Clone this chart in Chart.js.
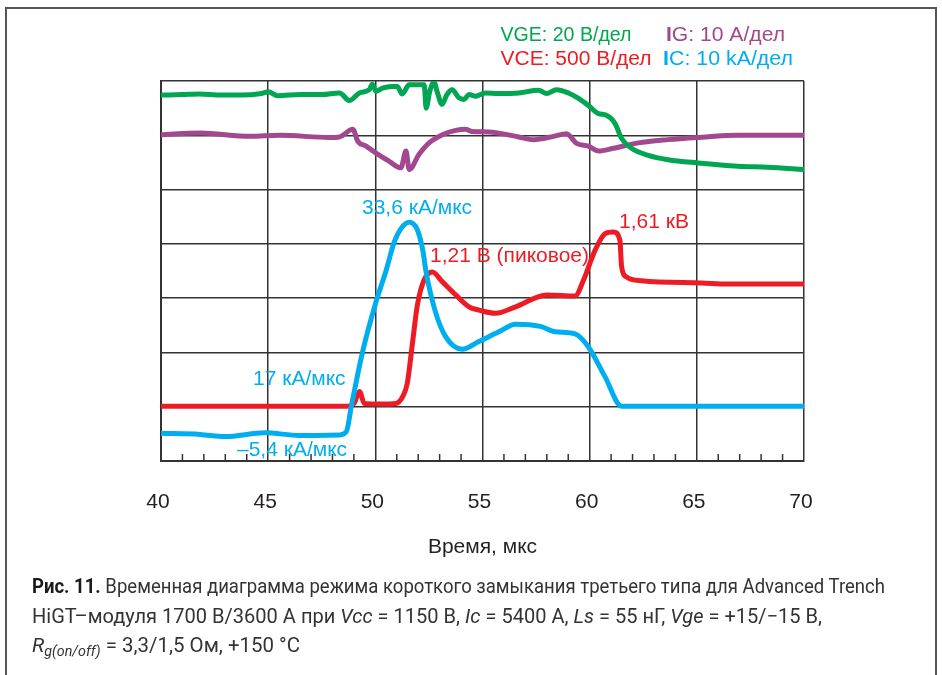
<!DOCTYPE html>
<html><head><meta charset="utf-8">
<script src="https://cdn.jsdelivr.net/npm/chart.js@4.4.1/dist/chart.umd.min.js"></script>
<style>
html,body{margin:0;padding:0;background:#fff;}
#wrap{position:relative;width:942px;height:675px;overflow:hidden;background:#fff;}
#frame{position:absolute;left:5px;top:7px;width:932px;height:720px;border:2px solid #555;box-sizing:border-box;}
canvas{position:absolute;left:0;top:0;}
.cap{position:absolute;left:32px;font-family:Roboto,"Liberation Sans",sans-serif;font-size:20px;line-height:20px;color:#333;white-space:nowrap;transform-origin:0 0;}
.cap b{color:#1a1a1a;font-weight:bold;}
.cap sub{font-size:14px;vertical-align:-4px;line-height:0;}
</style></head>
<body><div id="wrap"><div id="frame"></div><canvas id="c" width="942" height="675"></canvas>
<div class="cap" data-w="853" style="top:576px"><b>Рис. 11.</b> Временная диаграмма режима короткого замыкания третьего типа для Advanced Trench</div>
<div class="cap" data-w="790" style="top:606px">HiGT–модуля 1700 В/3600 А при <i>Vcc</i> = 1150 В, <i>Ic</i> = 5400 А, <i>Ls</i> = 55 нГ, <i>Vge</i> = +15/−15 В,</div>
<div class="cap" data-w="268" style="top:635px"><i>R</i><sub><i>g(on/off)</i></sub> = 3,3/1,5 Ом, +150 °C</div>
</div>
<script>
// ---- data (time in µs, values in screen divisions from bottom) ----
const xTicks = [40, 45, 50, 55, 60, 65, 70];

const tVGE = [40.0, 41.0, 41.8, 42.8, 43.7, 44.7, 45.0, 45.45, 46.5, 47.5, 48.33, 48.79, 49.26, 49.72, 49.86, 50.03, 50.33, 50.79, 51.02, 51.25, 51.58, 52.28, 52.37, 52.54, 52.74, 52.88, 53.11, 53.34, 53.58, 53.90, 54.13, 54.37, 54.68, 55.14, 55.76, 56.69, 57.62, 57.99, 58.45, 59.01, 59.48, 59.94, 60.41, 60.78, 61.18, 61.49, 61.95, 62.73, 63.66, 65.06, 66.92, 68.31, 70.0];
const vVGE = [6.74, 6.75, 6.76, 6.74, 6.74, 6.77, 6.80, 6.73, 6.75, 6.75, 6.78, 6.64, 6.78, 6.84, 6.94, 6.81, 6.87, 6.90, 6.90, 6.76, 6.93, 6.93, 6.50, 6.81, 6.98, 6.81, 6.57, 6.75, 6.84, 6.69, 6.66, 6.75, 6.72, 6.78, 6.77, 6.78, 6.83, 6.77, 6.84, 6.78, 6.68, 6.55, 6.40, 6.37, 6.22, 5.94, 5.76, 5.63, 5.55, 5.49, 5.43, 5.41, 5.37];

const tIG = [40.0, 41.83, 44.15, 45.54, 47.86, 48.33, 48.95, 49.18, 49.57, 50.03, 50.65, 51.19, 51.43, 51.58, 52.04, 52.51, 53.13, 53.75, 54.21, 54.52, 55.30, 56.69, 57.39, 58.32, 58.92, 59.39, 59.94, 60.41, 61.10, 62.27, 63.66, 65.06, 66.92, 70.0];
const vIG = [6.01, 6.04, 5.98, 6.00, 5.96, 5.97, 6.11, 5.89, 5.80, 5.67, 5.52, 5.40, 5.71, 5.37, 5.65, 5.86, 6.01, 6.09, 6.11, 6.07, 6.06, 5.97, 5.92, 5.98, 6.03, 5.85, 5.80, 5.71, 5.76, 5.86, 5.92, 5.96, 6.00, 6.00];

const tVCE = [40.0, 48.70, 49.02, 49.26, 49.49, 50.19, 50.96, 51.27, 51.49, 51.72, 51.96, 52.27, 52.66, 53.13, 53.75, 54.37, 54.83, 55.61, 56.54, 58.00, 59.32, 59.71, 60.25, 60.72, 61.10, 61.41, 61.49, 61.72, 62.42, 65.20, 66.44, 70.0];
const vVCE = [1.01, 1.01, 1.07, 1.28, 1.06, 1.05, 1.06, 1.18, 1.43, 2.13, 2.87, 3.33, 3.48, 3.30, 3.06, 2.84, 2.78, 2.72, 2.84, 3.06, 3.04, 3.33, 3.88, 4.19, 4.22, 4.07, 3.58, 3.39, 3.32, 3.28, 3.26, 3.26];

const tIC = [40.0, 41.83, 42.99, 44.85, 46.47, 48.33, 48.65, 48.89, 49.41, 50.03, 50.51, 50.88, 51.21, 51.58, 51.95, 52.23, 52.35, 52.78, 53.28, 54.05, 54.83, 55.76, 56.54, 57.70, 58.39, 59.32, 59.94, 60.72, 61.49, 62.0, 70.0];
const vIC = [0.51, 0.49, 0.45, 0.52, 0.47, 0.48, 0.54, 1.03, 2.02, 2.93, 3.52, 4.03, 4.29, 4.40, 4.27, 3.85, 3.52, 2.78, 2.29, 2.06, 2.20, 2.38, 2.52, 2.48, 2.38, 2.34, 2.10, 1.55, 1.01, 1.01, 1.01];

const legendItems = [
  {bar: '', text: 'VGE: 20 В/дел', color: '#00a651'},
  {bar: 'I', text: 'G: 10 А/дел', color: '#a2488e'},
  {bar: '', text: 'VCE: 500 В/дел', color: '#ed1c24'},
  {bar: 'I', text: 'C: 10 kA/дел', color: '#00aeef'}
];
const notes = [
  {text: '33,6 кА/мкс', color: '#00aeef'},
  {text: '1,21 В (пиковое)', color: '#ed1c24'},
  {text: '1,61 кВ', color: '#ed1c24'},
  {text: '17 кА/мкс', color: '#00aeef'},
  {text: '–5,4 кА/мкс', color: '#00aeef'}
];
const xTitle = 'Время, мкс';

// ---- layout (pixels) ----
const legendPos = [[500.5, 40.5], [666, 40.5], [500.5, 65], [663, 65]];
const legendW = [131, 119, 151, 130];
const notePos = [[362, 213.5], [430, 262], [619, 228], [253, 384.5], [237, 455.5]];

const pts = (t, v) => t.map((x, i) => ({x: x, y: v[i]}));
const mk = (label, t, v, color, order) => ({
  label, data: pts(t, v), borderColor: color, backgroundColor: color,
  borderWidth: 5, pointRadius: 0, fill: false, cubicInterpolationMode: 'monotone',
  borderJoinStyle: 'round', borderCapStyle: 'round', order
});

const FONT = '"Liberation Sans", Arial, sans-serif';

const overlay = {
  id: 'overlay',
  beforeDatasetsDraw(chart) {
    const ctx = chart.ctx, xs = chart.scales.x, a = chart.chartArea;
    ctx.save();
    ctx.strokeStyle = '#333'; ctx.lineWidth = 1.5;
    for (let t = 41; t < 70; t++) {
      if (t % 5 === 0) continue;
      const px = xs.getPixelForValue(t);
      ctx.beginPath(); ctx.moveTo(px, a.bottom); ctx.lineTo(px, a.bottom - 7); ctx.stroke();
    }
    ctx.restore();
  },
  afterDatasetsDraw(chart) {
    const ctx = chart.ctx, a = chart.chartArea;
    ctx.save();
    ctx.textBaseline = 'alphabetic';
    ctx.textAlign = 'left';
    legendItems.forEach((it, i) => {
      const [x0, y] = legendPos[i];
      ctx.font = 'bold 20px ' + FONT;
      const bw = it.bar ? ctx.measureText(it.bar).width : 0;
      ctx.font = '20px ' + FONT;
      const tw = ctx.measureText(it.text).width;
      const k = legendW[i] / (bw + tw);
      ctx.save();
      ctx.translate(x0, y); ctx.scale(k, 1);
      ctx.fillStyle = it.color;
      if (it.bar) { ctx.font = 'bold 20px ' + FONT; ctx.fillText(it.bar, 0, 0); }
      ctx.font = '20px ' + FONT;
      ctx.fillText(it.text, bw, 0);
      ctx.restore();
    });
    notes.forEach((n, i) => {
      ctx.fillStyle = n.color;
      ctx.font = '21px ' + FONT;
      ctx.fillText(n.text, notePos[i][0], notePos[i][1]);
    });
    ctx.fillStyle = '#231f20';
    ctx.font = '21px ' + FONT;
    ctx.textAlign = 'center';
    ctx.fillText(xTitle, (a.left + a.right) / 2, 553);
    ctx.restore();
  }
};

new Chart(document.getElementById('c'), {
  type: 'line',
  data: {
    datasets: [
      mk('IC', tIC, vIC, '#00aeef', 1),
      mk('VCE', tVCE, vVCE, '#ed1c24', 2),
      mk('VGE', tVGE, vVGE, '#00a651', 3),
      mk('IG', tIG, vIG, '#a2488e', 4)
    ]
  },
  options: {
    responsive: false, animation: false,
    layout: {padding: {left: 161, right: 138, top: 81, bottom: 0}},
    plugins: {legend: {display: false}, tooltip: {enabled: false}},
    scales: {
      x: {
        type: 'linear', min: 40, max: 70,
        afterFit: s => { s.height = 214; },
        afterBuildTicks: s => { s.ticks = xTicks.map(v => ({value: v})); },
        ticks: {padding: 29, labelOffset: -3, font: {size: 21, family: FONT}, color: '#231f20', maxRotation: 0, autoSkip: false},
        grid: {color: '#333', lineWidth: 1.5, drawTicks: false},
        border: {color: '#333', width: 2}
      },
      y: {
        min: 0, max: 7,
        afterFit: s => { s.width = 0; },
        ticks: {display: false, stepSize: 1},
        grid: {color: '#333', lineWidth: 1.5, drawTicks: false},
        border: {color: '#333', width: 2}
      }
    }
  },
  plugins: [overlay]
});

// condense caption lines to the reference line widths
document.querySelectorAll('.cap').forEach(c => {
  const w = c.getBoundingClientRect().width;
  c.style.transform = 'scaleX(' + (parseFloat(c.dataset.w) / w) + ')';
});
</script>
</body></html>
